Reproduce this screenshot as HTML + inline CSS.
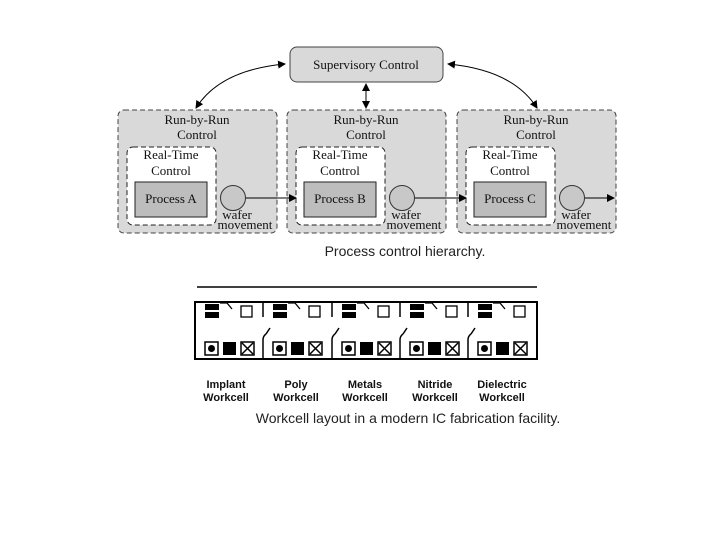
<!DOCTYPE html>
<html><head><style>
html,body{margin:0;padding:0;background:#fff;}
svg{display:block;}
.s{font-family:"Liberation Serif",serif;font-size:13px;fill:#111;}
.a{font-family:"Liberation Sans",sans-serif;}
</style></head><body>
<svg width="720" height="540" viewBox="0 0 720 540">
<defs>
<marker id="ah" markerWidth="8" markerHeight="8" refX="7" refY="4" orient="auto" markerUnits="userSpaceOnUse">
<path d="M0,0 L8,4 L0,8 z" fill="#000"/></marker>
<marker id="as" markerWidth="8" markerHeight="8" refX="1" refY="4" orient="auto" markerUnits="userSpaceOnUse">
<path d="M8,0 L0,4 L8,8 z" fill="#000"/></marker>
</defs>
<rect x="290" y="47" width="153" height="35" rx="7" fill="#d9d9d9" stroke="#444"/>
<text x="366" y="69" text-anchor="middle" class="s" font-size="13">Supervisory Control</text>
<path d="M285,64 Q220,70 196,108" fill="none" stroke="#000" marker-start="url(#as)" marker-end="url(#ah)"/>
<path d="M448,64 Q513,70 537,108" fill="none" stroke="#000" marker-start="url(#as)" marker-end="url(#ah)"/>
<line x1="366" y1="84" x2="366" y2="108" stroke="#000" marker-start="url(#as)" marker-end="url(#ah)"/>
<g id="c">
<rect x="118" y="110" width="159" height="123" rx="6" fill="#d9d9d9" stroke="#444" stroke-dasharray="5,3"/>
<text x="197" y="124" text-anchor="middle" class="s">Run-by-Run</text>
<text x="197" y="139" text-anchor="middle" class="s">Control</text>
<rect x="127" y="147" width="89" height="78" rx="6" fill="#fff" stroke="#222" stroke-dasharray="5,3"/>
<text x="171" y="159" text-anchor="middle" class="s">Real-Time</text>
<text x="171" y="175" text-anchor="middle" class="s">Control</text>
<rect x="135" y="182" width="72" height="35" fill="#bdbdbd" stroke="#222"/>
<circle cx="233" cy="198" r="12.5" fill="#c8c8c8" stroke="#333"/>
<text x="237" y="219" text-anchor="middle" class="s" font-size="9">wafer</text>
<text x="245" y="229" text-anchor="middle" class="s" font-size="9">movement</text>
</g>
<use href="#c" x="169"/>
<use href="#c" x="339"/>
<text x="171" y="203" text-anchor="middle" class="s">Process A</text>
<text x="340" y="203" text-anchor="middle" class="s">Process B</text>
<text x="510" y="203" text-anchor="middle" class="s">Process C</text>
<line x1="246" y1="198" x2="296" y2="198" stroke="#000" marker-end="url(#ah)"/>
<line x1="415" y1="198" x2="466" y2="198" stroke="#000" marker-end="url(#ah)"/>
<line x1="585" y1="198" x2="614" y2="198" stroke="#000" marker-end="url(#ah)"/>
<text x="405" y="256" text-anchor="middle" class="a" font-size="14" fill="#222">Process control hierarchy.</text>

<line x1="197" y1="287" x2="537" y2="287" stroke="#000" stroke-width="1.5"/>
<rect x="195" y="302" width="342" height="57" fill="none" stroke="#000" stroke-width="2"/>
<g id="w">
<rect x="205" y="304" width="14" height="6" fill="#000"/><rect x="205" y="312" width="14" height="6" fill="#000"/>
<path d="M220,303 L227,303 L232,309" fill="none" stroke="#000" stroke-width="1.3"/>
<rect x="241" y="306" width="11" height="11" fill="none" stroke="#000" stroke-width="1.3"/>
<rect x="205" y="342" width="13" height="13" fill="none" stroke="#000" stroke-width="1.5"/>
<circle cx="211.5" cy="348.5" r="3.5" fill="#000"/>
<rect x="223" y="342" width="13" height="13" fill="#000"/>
<rect x="241" y="342" width="13" height="13" fill="none" stroke="#000" stroke-width="1.5"/>
<path d="M242,343 L253,354 M253,343 L242,354" stroke="#000" stroke-width="1.5"/>
</g>
<use href="#w" x="68"/><use href="#w" x="137"/><use href="#w" x="205"/><use href="#w" x="273"/>
<g stroke="#000" stroke-width="1.5" fill="none">
<path d="M263,302 L263,317"/><path d="M332,302 L332,317"/><path d="M400,302 L400,317"/><path d="M468,302 L468,317"/>
<path d="M263,359 L263,340 Q263,336 266,334 M270,328 L266,334"/>
<path d="M332,359 L332,340 Q332,336 335,334 M339,328 L335,334"/>
<path d="M400,359 L400,340 Q400,336 403,334 M407,328 L403,334"/>
<path d="M468,359 L468,340 Q468,336 471,334 M475,328 L471,334"/>
</g>
<g class="a" font-size="11" font-weight="bold" text-anchor="middle" fill="#111">
<text x="226" y="388">Implant</text><text x="226" y="401">Workcell</text>
<text x="296" y="388">Poly</text><text x="296" y="401">Workcell</text>
<text x="365" y="388">Metals</text><text x="365" y="401">Workcell</text>
<text x="435" y="388">Nitride</text><text x="435" y="401">Workcell</text>
<text x="502" y="388">Dielectric</text><text x="502" y="401">Workcell</text>
</g>
<text x="408" y="423" text-anchor="middle" class="a" font-size="14" fill="#222">Workcell layout in a modern IC fabrication facility.</text>
</svg>
</body></html>
